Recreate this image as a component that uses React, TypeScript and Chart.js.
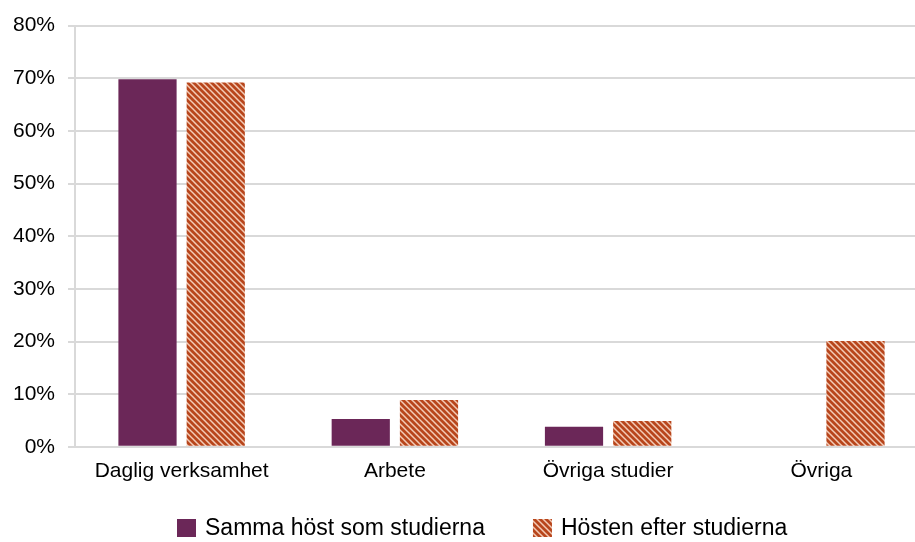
import React, { useEffect, useRef } from "react";
import { Chart, registerables } from "chart.js";

Chart.register(...registerables);

const categories = ["Daglig verksamhet", "Arbete", "Övriga studier", "Övriga"];
const seriesNames = ["Samma höst som studierna", "Hösten efter studierna"];
const sammaHost = [69.8, 5.3, 3.8, 0];
const hostenEfter = [69.2, 8.9, 4.9, 20.1];
const yMin = 0;
const yMax = 80;
const yStep = 10;

const PURPLE = "#6B2758";
const ORANGE = "#B8461C";
const STRIPE = "#F3CBB6";
const FONT = "'Liberation Sans', Arial, sans-serif";

function makePattern(ctx: CanvasRenderingContext2D): CanvasPattern | string {
  const s = 6;
  const c = document.createElement("canvas");
  c.width = s;
  c.height = s;
  const g = c.getContext("2d");
  if (!g) return ORANGE;
  g.fillStyle = ORANGE;
  g.fillRect(0, 0, s, s);
  g.strokeStyle = STRIPE;
  g.lineWidth = 1.5;
  g.beginPath();
  g.moveTo(-s, 0);
  g.lineTo(s, 2 * s);
  g.moveTo(0, 0);
  g.lineTo(s, s);
  g.moveTo(0, -s);
  g.lineTo(2 * s, s);
  g.stroke();
  return ctx.createPattern(c, "repeat") || ORANGE;
}

const legendPlugin = {
  id: "customLegend",
  afterDraw(chart: any) {
    const ctx: CanvasRenderingContext2D = chart.ctx;
    ctx.save();
    ctx.font = `23px ${FONT}`;
    ctx.textBaseline = "middle";
    ctx.textAlign = "left";
    const cy = 528;
    let x = 177;
    chart.data.datasets.forEach((ds: any) => {
      ctx.fillStyle = ds.backgroundColor;
      ctx.fillRect(x, cy - 9, 19, 18);
      ctx.fillStyle = "#000";
      ctx.fillText(ds.label, x + 28, cy + 1);
      const w = ctx.measureText(ds.label).width;
      x = x + 28 + w + 48;
    });
    ctx.restore();
  },
};

export default function App() {
  const ref = useRef<HTMLCanvasElement | null>(null);

  useEffect(() => {
    const canvas = ref.current;
    if (!canvas) return;
    const ctx = canvas.getContext("2d");
    if (!ctx) return;
    const pattern = makePattern(ctx);
    const chart = new Chart(ctx, {
      type: "bar",
      data: {
        labels: categories,
        datasets: [
          {
            label: seriesNames[0],
            data: sammaHost,
            backgroundColor: PURPLE,
            borderWidth: 0,
          },
          {
            label: seriesNames[1],
            data: hostenEfter,
            backgroundColor: pattern as any,
            borderWidth: 0,
          },
        ],
      },
      options: {
        responsive: false,
        animation: false,
        devicePixelRatio: 1,
        layout: { padding: { left: 0, right: 0, top: 24, bottom: 54 } },
        datasets: {
          bar: { categoryPercentage: 0.64, barPercentage: 0.853 },
        },
        plugins: {
          legend: { display: false },
          tooltip: { enabled: false },
          title: { display: false },
        },
        scales: {
          x: {
            grid: { display: false },
            border: { display: true, color: "#d9d9d9", width: 2 },
            ticks: {
              color: "#000",
              padding: 4,
              font: { family: FONT, size: 21 },
              maxRotation: 0,
            },
          },
          y: {
            min: yMin,
            max: yMax,
            afterFit: (scale: any) => {
              scale.width = 75;
            },
            grid: {
              color: "#d9d9d9",
              lineWidth: 2,
              tickLength: 7,
              drawTicks: true,
            },
            border: { display: true, color: "#d9d9d9", width: 2 },
            ticks: {
              stepSize: yStep,
              color: "#000",
              padding: 13,
              font: { family: FONT, size: 21 },
              callback: (v: any) => `${v}%`,
            },
          },
        },
      },
      plugins: [legendPlugin],
    });
    return () => chart.destroy();
  }, []);

  return (
    <div
      style={{
        position: "absolute",
        left: 0,
        top: 0,
        width: 915,
        height: 542,
        overflow: "hidden",
        background: "#fff",
      }}
    >
      <canvas ref={ref} width={928} height={542} style={{ display: "block" }} />
    </div>
  );
}
